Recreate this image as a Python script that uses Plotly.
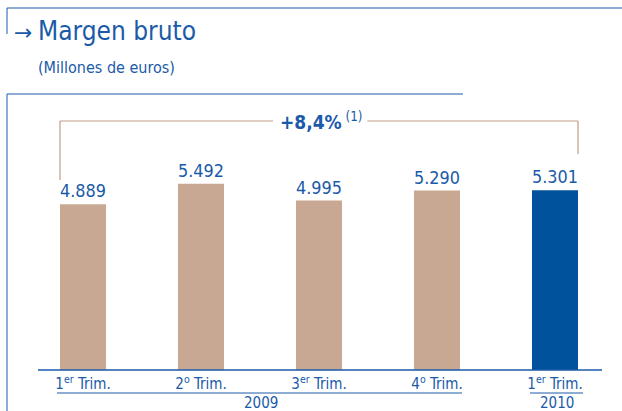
import plotly.graph_objects as go

# Data
quarters = ["1<sup>er</sup> Trim.", "2<sup>o</sup> Trim.", "3<sup>er</sup> Trim.",
            "4<sup>o</sup> Trim.", "1<sup>er</sup> Trim."]
values = [4889, 5492, 4995, 5290, 5301]
years = ["2009", "2010"]
growth_label = "+8,4%"

BLUE_TEXT = "#1a5aa8"
BLUE_BAR = "#00529c"
TAN = "#c9a893"
TAN_LINE = "#c49b86"
FONT = "DejaVu Sans Condensed, Liberation Sans Narrow, Roboto, Liberation Sans, sans-serif"

W, H = 622, 411
L, R, T, B = 24, 8, 100, 41
PW, PH = W - L - R, H - T - B


def px_x(px):
    return (px - L) / PW


def px_y(py):
    return (H - B - py) / PH


x_idx = list(range(len(values)))
colors = [TAN] * 4 + [BLUE_BAR]

fig = go.Figure()
fig.add_trace(go.Bar(
    x=x_idx,
    y=values,
    width=0.39,
    marker=dict(color=colors, line_width=0),
    texttemplate="%{y:,}",
    textposition="outside",
    textfont=dict(family=FONT, size=19, color=BLUE_TEXT),
    cliponaxis=False,
    hoverinfo="skip",
))

fig.update_layout(
    width=W, height=H,
    margin=dict(l=L, r=R, t=T, b=B),
    plot_bgcolor="white",
    paper_bgcolor="white",
    separators=",.",
    showlegend=False,
    font=dict(family=FONT, color=BLUE_TEXT),
)

fig.update_xaxes(
    range=[-0.5, 4.5],
    tickvals=x_idx,
    ticktext=quarters,
    tickfont=dict(family=FONT, size=15, color=BLUE_TEXT),
    ticklabelstandoff=3,
    showgrid=False, zeroline=False, showline=False, ticks="",
)
fig.update_yaxes(range=[0, 7960], visible=False)

line_blue = dict(color=BLUE_TEXT, width=1)
line_axis = dict(color=BLUE_TEXT, width=1.5)
line_tan = dict(color=TAN_LINE, width=1.2)

shapes = [
    # frames
    dict(type="line", xref="paper", yref="paper", x0=px_x(7), x1=px_x(622), y0=px_y(8), y1=px_y(8), line=line_blue),
    dict(type="line", xref="paper", yref="paper", x0=px_x(7), x1=px_x(7), y0=px_y(8), y1=px_y(34), line=line_blue),
    dict(type="line", xref="paper", yref="paper", x0=px_x(7), x1=px_x(463), y0=px_y(94), y1=px_y(94), line=line_blue),
    dict(type="line", xref="paper", yref="paper", x0=px_x(7), x1=px_x(7), y0=px_y(94), y1=px_y(411), line=line_blue),
    # baseline
    dict(type="line", xref="paper", yref="paper", x0=px_x(38), x1=px_x(602), y0=0, y1=0, line=line_axis),
    # year underlines
    dict(type="line", xref="paper", yref="paper", x0=px_x(57), x1=px_x(462), y0=px_y(393), y1=px_y(393), line=line_blue),
    dict(type="line", xref="paper", yref="paper", x0=px_x(530), x1=px_x(583), y0=px_y(393), y1=px_y(393), line=line_blue),
    # growth bracket
    dict(type="line", xref="x", yref="paper", x0=-0.195, x1=-0.195, y0=px_y(180), y1=px_y(121), line=line_tan),
    dict(type="line", xref="x", yref="paper", x0=-0.195, x1=1.61, y0=px_y(121), y1=px_y(121), line=line_tan),
    dict(type="line", xref="x", yref="paper", x0=2.41, x1=4.195, y0=px_y(121), y1=px_y(121), line=line_tan),
    dict(type="line", xref="x", yref="paper", x0=4.195, x1=4.195, y0=px_y(121), y1=px_y(154), line=line_tan),
]
fig.update_layout(shapes=shapes)

annotations = [
    dict(text="\u2192", x=px_x(12), y=px_y(32), xanchor="left", yanchor="middle", font=dict(family="DejaVu Sans", size=22, color=BLUE_TEXT)),
    dict(text="Margen bruto", x=px_x(36), y=px_y(31), xanchor="left", yanchor="middle", font=dict(family=FONT, size=26, color=BLUE_TEXT)),
    dict(text="(Millones de euros)", x=px_x(36), y=px_y(67), xanchor="left", yanchor="middle", font=dict(family=FONT, size=16, color=BLUE_TEXT)),
    dict(text=years[0], x=px_x(261), y=px_y(403), xanchor="center", yanchor="middle", font=dict(family=FONT, size=15, color=BLUE_TEXT)),
    dict(text=years[1], x=px_x(557), y=px_y(403), xanchor="center", yanchor="middle", font=dict(family=FONT, size=15, color=BLUE_TEXT)),
]
for a in annotations:
    a.update(xref="paper", yref="paper", showarrow=False)
fig.update_layout(annotations=annotations)

fig.add_annotation(
    text=f"<b>{growth_label}</b><sup> (1)</sup>",
    x=2.02, xref="x", y=px_y(121), yref="paper",
    showarrow=False, xanchor="center", yanchor="middle",
    font=dict(family=FONT, size=19, color=BLUE_TEXT),
)

fig.write_html("out.html", config={"displayModeBar": False},
               post_script="document.body.style.margin='0px';")
